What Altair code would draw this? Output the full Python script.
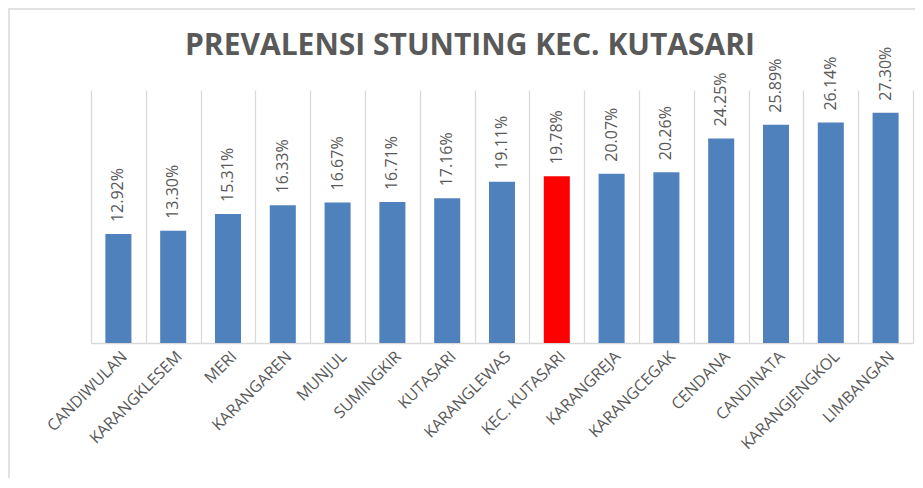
import altair as alt
import pandas as pd

categories = ["CANDIWULAN", "KARANGKLESEM", "MERI", "KARANGAREN", "MUNJUL",
              "SUMINGKIR", "KUTASARI", "KARANGLEWAS", "KEC. KUTASARI",
              "KARANGREJA", "KARANGCEGAK", "CENDANA", "CANDINATA",
              "KARANGJENGKOL", "LIMBANGAN"]
values = [12.92, 13.30, 15.31, 16.33, 16.67, 16.71, 17.16, 19.11, 19.78,
          20.07, 20.26, 24.25, 25.89, 26.14, 27.30]
highlight = "KEC. KUTASARI"
title_text = ["PREVALENSI STUNTING KEC. KUTASARI"]

df = pd.DataFrame({
    "cat": categories,
    "val": values,
    "label": [f"{v:.2f}%" for v in values],
    "hl": ["yes" if c == highlight else "no" for c in categories],
})

FONT = "Open Sans"
GRAY = "#595959"

x_enc = alt.X("cat:N", sort=None,
              scale=alt.Scale(paddingInner=0, paddingOuter=0),
              axis=alt.Axis(title=None, labelAngle=-45, labelFont=FONT,
                            labelFontSize=16, labelColor=GRAY, labelPadding=5,
                            ticks=False, grid=True, gridColor="#d9d9d9",
                            gridWidth=1.3, tickBand="extent",
                            domainColor="#d9d9d9", domainWidth=1.5))
y_enc = alt.Y("val:Q", scale=alt.Scale(domain=[0, 30]), axis=None)

frame = alt.Chart(pd.DataFrame({"a": [0]})).mark_rect(
    filled=False, stroke="#d9d9d9", strokeWidth=1.5, clip=False
).encode(x=alt.value(-82), x2=alt.value(900), y=alt.value(-81), y2=alt.value(500))

title = alt.Chart(pd.DataFrame({"t": title_text})).mark_text(
    font=FONT, fontSize=30, fontWeight="bold", color=GRAY,
    align="center", baseline="alphabetic",
).encode(x=alt.value(379), y=alt.value(-35), text="t:N")

bars = alt.Chart(df).mark_bar(width=alt.RelativeBandSize(0.475)).encode(
    x=x_enc, y=y_enc,
    color=alt.Color("hl:N", scale=alt.Scale(domain=["no", "yes"],
                                            range=["#4F81BD", "#FF0000"]),
                    legend=None),
)

labels = alt.Chart(df).mark_text(
    angle=270, align="left", baseline="middle", dx=12,
    font=FONT, fontSize=16, color=GRAY,
).encode(x=x_enc, y=y_enc, text="label:N")

chart = alt.layer(frame, title, bars, labels).properties(
    width=822, height=253,
    autosize=alt.AutoSizeParams(type="none"),
    padding={"left": 83, "top": 82, "right": 2, "bottom": 135},
).configure_view(stroke=None)

chart.save("out.html", embed_options={"renderer": "svg", "actions": False})
